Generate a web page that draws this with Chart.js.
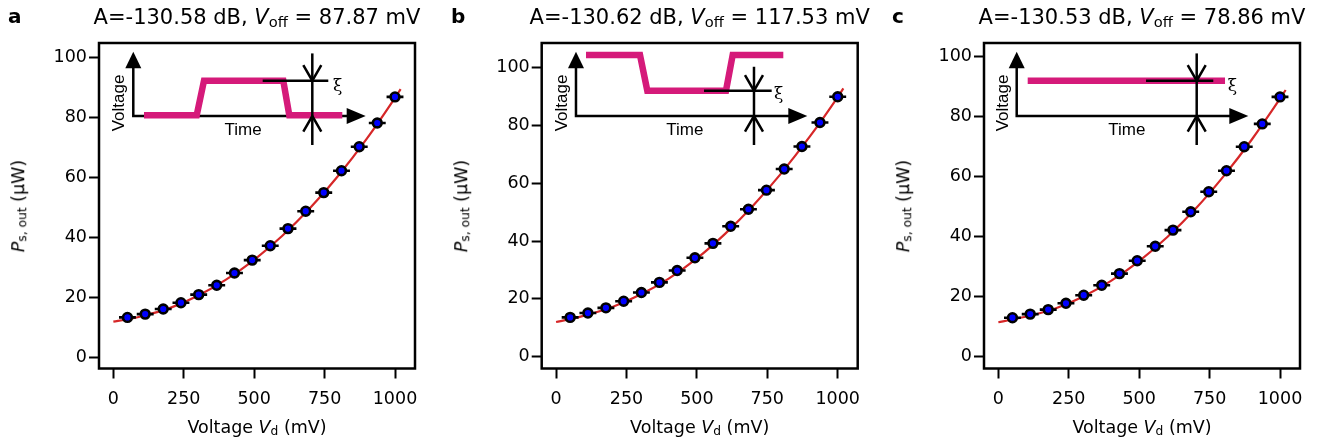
<!DOCTYPE html>
<html>
<head>
<meta charset="utf-8">
<script src="https://cdn.jsdelivr.net/npm/chart.js@4.4.1/dist/chart.umd.min.js"></script>
<style>
  body { margin: 0; background: #fff; }
  #fig { position: relative; width: 1327px; height: 443px; overflow: hidden; font-family: 'DejaVu Sans', sans-serif; color: #000; }
  .panel { position: absolute; top: 0; }
  .txt { position: absolute; white-space: nowrap; line-height: 1; }
  .txt sub { font-size: 70%; line-height: 0; vertical-align: -0.2em; }
  .letter { font-weight: bold; font-size: 20px; }
  .title { font-size: 21px; }
  .axlabel { font-size: 17.5px; }
  .inset { font-family: 'Liberation Sans', Arial, sans-serif; font-size: 17px; }
  .xi { font-family: 'DejaVu Serif', serif; font-size: 17px; }
</style>
</head>
<body>
<div id="fig"></div>
<script>
// drive voltage of the measured points (mV) and its horizontal error
const voltage = [50, 113, 177, 240, 303, 367, 430, 493, 557, 620, 683, 747, 810, 873, 937, 1000];
const voltageErr = [30, 30, 30, 30, 30, 30, 30, 30, 30, 30, 30, 30, 30, 30, 30, 30];

// measured output power (uW)
const powerA = [13.2, 14.3, 16.0, 18.1, 20.8, 23.9, 28.0, 32.3, 37.1, 42.8, 48.6, 54.8, 62.1, 70.1, 78.0, 86.7];
const powerB = [13.6, 15.1, 16.9, 19.2, 22.2, 25.7, 29.8, 34.2, 39.2, 45.1, 51.0, 57.6, 64.9, 72.7, 81.0, 89.9];
const powerC = [13.0, 14.2, 15.7, 17.8, 20.5, 23.8, 27.7, 32.0, 36.8, 42.2, 48.3, 55.0, 62.0, 70.0, 77.6, 86.6];

// fitted curves
const fitVoltage = [0, 50, 100, 200, 300, 400, 500, 600, 700, 800, 900, 1000, 1020];
const fitA = [11.8, 12.6, 13.6, 16.3, 20.4, 25.8, 32.4, 40.4, 49.8, 60.6, 72.8, 86.4, 89.3];
const fitB = [12.0, 13.0, 14.2, 17.2, 21.5, 27.0, 34.0, 42.5, 52.3, 63.5, 76.0, 89.8, 92.8];
const fitC = [11.5, 12.4, 13.4, 16.0, 20.0, 25.3, 31.9, 39.9, 49.3, 60.2, 72.4, 86.0, 88.9];

// fit parameters shown in the titles
const ampDb = ['-130.58', '-130.62', '-130.53'];
const vOff = ['87.87', '117.53', '78.86'];

const xTicks = [0, 250, 500, 750, 1000];
const yTicks = [0, 20, 40, 60, 80, 100];

// inset sketches (time / voltage in % of the plot box)
const pulseTimeA = [14.24, 30.92, 33.23, 58.32, 60.22, 76.99];
const pulseLevelA = [77.79, 77.79, 88.42, 88.42, 77.79, 77.79];
const pulseTimeB = [14.02, 31.11, 33.42, 58.32, 60.44, 76.46];
const pulseLevelB = [96.31, 96.31, 85.35, 85.35, 96.31, 96.31];
const pulseTimeC = [13.83, 76.27];
const pulseLevelC = [88.42, 88.42];

const PLOT_TOP = 43, PLOT_BOTTOM = 368.5, PLOT_W = 316;
const FONT = 'DejaVu Sans';
const PINK = '#d51a7a';

const panels = [
  { id: 'a', left: 0, width: 440, plotL: 99, yMin: -3.83, yMax: 104.67,
    power: powerA, fit: fitA, pulseT: pulseTimeA, pulseV: pulseLevelA,
    inset: { origin: [10.85, 77.57], vTip: 97.33, hTip: 84.4, xiLine: [51.8, 72.56, 88.42],
             marker: [67.5, 96.8, 68.66], tips: [88.42, 77.57],
             xiPos: [75.5, 87.1], voltPos: [6.0, 81.6], timePos: [45.6, 73.6] } },
  { id: 'b', left: 440, width: 440, plotL: 541.7, yMin: -4.08, yMax: 108.5,
    power: powerB, fit: fitB, pulseT: pulseTimeB, pulseV: pulseLevelB,
    inset: { origin: [10.85, 77.57], vTip: 97.33, hTip: 84.05, xiLine: [51.36, 72.78, 85.35],
             marker: [67.18, 92.7, 68.66], tips: [85.35, 77.57],
             xiPos: [75.0, 84.6], voltPos: [6.0, 81.6], timePos: [45.3, 73.6] } },
  { id: 'c', left: 880, width: 447, plotL: 984, yMin: -3.93, yMax: 104.57,
    power: powerC, fit: fitC, pulseT: pulseTimeC, pulseV: pulseLevelC,
    inset: { origin: [10.35, 77.57], vTip: 97.33, hTip: 83.64, xiLine: [51.27, 72.56, 88.42],
             marker: [67.31, 96.8, 68.66], tips: [88.42, 77.57],
             xiPos: [78.6, 87.1], voltPos: [5.6, 81.6], timePos: [45.2, 73.6] } }
];

const fig = document.getElementById('fig');

function addText(html, cls, x, y, transform) {
  const el = document.createElement('div');
  el.className = 'txt ' + cls;
  el.innerHTML = html;
  el.style.left = x + 'px';
  el.style.top = y + 'px';
  el.style.transform = transform;
  fig.appendChild(el);
  return el;
}

// baseline helper for line-height:1 boxes
function topFor(baseline, fs) { return baseline - 0.846 * fs; }

function line(ctx, pts) {
  ctx.beginPath();
  ctx.moveTo(pts[0][0], pts[0][1]);
  for (let i = 1; i < pts.length; i++) ctx.lineTo(pts[i][0], pts[i][1]);
  ctx.stroke();
}

function tri(ctx, pts) {
  ctx.beginPath();
  ctx.moveTo(pts[0][0], pts[0][1]);
  ctx.lineTo(pts[1][0], pts[1][1]);
  ctx.lineTo(pts[2][0], pts[2][1]);
  ctx.closePath();
  ctx.fill();
}

function insetPlugin(p) {
  const s = p.inset;
  return {
    id: 'inset',
    beforeDatasetsDraw(chart) {
      const ctx = chart.ctx, X = v => chart.scales.ix.getPixelForValue(v), Y = v => chart.scales.iy.getPixelForValue(v);
      const ox = X(s.origin[0]), oy = Y(s.origin[1]), vt = Y(s.vTip), ht = X(s.hTip);
      ctx.save();
      ctx.strokeStyle = '#000'; ctx.fillStyle = '#000'; ctx.lineWidth = 2.5; ctx.lineJoin = 'miter';
      line(ctx, [[ox, vt + 15], [ox, oy], [ht - 17, oy]]);
      tri(ctx, [[ox, vt], [ox - 8, vt + 16.5], [ox + 8, vt + 16.5]]);
      tri(ctx, [[ht, oy], [ht - 19, oy - 8], [ht - 19, oy + 8]]);
      ctx.restore();
    },
    afterDatasetsDraw(chart) {
      const ctx = chart.ctx, X = v => chart.scales.ix.getPixelForValue(v), Y = v => chart.scales.iy.getPixelForValue(v);
      ctx.save();
      ctx.strokeStyle = '#000'; ctx.lineWidth = 2.5;
      line(ctx, [[X(s.xiLine[0]), Y(s.xiLine[2])], [X(s.xiLine[1]), Y(s.xiLine[2])]]);
      const mx = X(s.marker[0]);
      line(ctx, [[mx, Y(s.marker[1])], [mx, Y(s.marker[2])]]);
      const t1 = Y(s.tips[0]), t2 = Y(s.tips[1]);
      line(ctx, [[mx - 9, t1 - 15.5], [mx, t1], [mx + 9, t1 - 15.5]]);
      line(ctx, [[mx - 9, t2 + 15.5], [mx, t2], [mx + 9, t2 + 15.5]]);
      // frame
      const a = chart.chartArea;
      ctx.lineWidth = 2.5;
      ctx.strokeRect(a.left, a.top, a.right - a.left, a.bottom - a.top);
      ctx.restore();
    }
  };
}

function makePanel(p, idx) {
  const box = document.createElement('div');
  box.className = 'panel';
  box.style.left = p.left + 'px';
  const canvas = document.createElement('canvas');
  canvas.width = p.width; canvas.height = 443;
  canvas.style.width = p.width + 'px'; canvas.style.height = '443px';
  box.appendChild(canvas);
  fig.appendChild(box);

  const points = voltage.map((v, i) => ({ x: v, y: p.power[i] }));
  const errBars = [];
  voltage.forEach((v, i) => {
    errBars.push({ x: v - voltageErr[i], y: p.power[i] }, { x: v + voltageErr[i], y: p.power[i] }, { x: v, y: null });
  });
  const fitPts = fitVoltage.map((v, i) => ({ x: v, y: p.fit[i] }));
  const pulse = p.pulseT.map((t, i) => ({ x: t, y: p.pulseV[i] }));

  const tickFont = { family: FONT, size: 17.5 };
  const plotR = p.plotL + PLOT_W;

  new Chart(canvas.getContext('2d'), {
    type: 'line',
    data: {
      datasets: [
        { data: points, showLine: false, pointRadius: 4.4, pointBorderWidth: 2.6,
          pointBackgroundColor: '#0000ff', pointBorderColor: '#000', order: 1 },
        { data: errBars, borderColor: '#000', borderWidth: 2.6, pointRadius: 0, spanGaps: false, order: 2 },
        { data: fitPts, borderColor: '#d62728', borderWidth: 2.2, pointRadius: 0,
          cubicInterpolationMode: 'monotone', order: 3 },
        { data: pulse, xAxisID: 'ix', yAxisID: 'iy', borderColor: PINK, borderWidth: 6.5,
          pointRadius: 0, borderJoinStyle: 'miter', borderCapStyle: 'butt', order: 4 }
      ]
    },
    options: {
      responsive: false,
      devicePixelRatio: 1,
      animation: false,
      events: [],
      layout: { padding: { left: 0, top: PLOT_TOP, right: p.width - (plotR - p.left), bottom: 0 } },
      plugins: { legend: { display: false }, tooltip: { enabled: false } },
      scales: {
        x: {
          type: 'linear', position: 'bottom', min: -51, max: 1071,
          afterBuildTicks: sc => { sc.ticks = xTicks.map(v => ({ value: v })); },
          afterFit: sc => { sc.height = 443 - PLOT_BOTTOM; },
          ticks: { font: tickFont, color: '#000', padding: 10, maxRotation: 0, autoSkip: false,
                   callback: v => String(v) },
          grid: { drawOnChartArea: false, drawTicks: true, tickLength: 10, tickWidth: 2, tickColor: '#000' },
          border: { display: false }
        },
        y: {
          type: 'linear', position: 'left', min: p.yMin, max: p.yMax,
          afterBuildTicks: sc => { sc.ticks = yTicks.map(v => ({ value: v })); },
          afterFit: sc => { sc.width = p.plotL - p.left; },
          ticks: { font: tickFont, color: '#000', padding: 2, autoSkip: false,
                   callback: v => String(v) },
          grid: { drawOnChartArea: false, drawTicks: true, tickLength: 10, tickWidth: 2, tickColor: '#000' },
          border: { display: false }
        },
        ix: { type: 'linear', axis: 'x', min: 0, max: 100, display: false },
        iy: { type: 'linear', axis: 'y', min: 0, max: 100, display: false }
      }
    },
    plugins: [insetPlugin(p)]
  });

  // texts
  const cx = p.plotL + PLOT_W / 2;
  const cy = (PLOT_TOP + PLOT_BOTTOM) / 2;
  const letterX = [8, 451, 892][idx];
  addText(p.id, 'letter', letterX, topFor(23, 20), 'none');
  addText('A=' + ampDb[idx] + ' dB, <i>V</i><sub>off</sub> = ' + vOff[idx] + ' mV', 'title',
          cx, topFor(25, 21), 'translateX(-50%)');
  addText('Voltage <i>V</i><sub>d</sub> (mV)', 'axlabel', cx, topFor(434, 17.5), 'translateX(-50%)');
  addText('<i>P</i><sub>s, out</sub> (\u03bcW)', 'axlabel', p.plotL - 80, cy, 'translate(-50%,-50%) rotate(-90deg)');

  const px = v => p.plotL + v / 100 * PLOT_W;
  const py = v => PLOT_BOTTOM - v / 100 * (PLOT_BOTTOM - PLOT_TOP);
  const s = p.inset;
  addText('Voltage', 'inset', px(s.voltPos[0]), py(s.voltPos[1]), 'translate(-50%,-50%) rotate(-90deg)');
  addText('Time', 'inset', px(s.timePos[0]), py(s.timePos[1]), 'translate(-50%,-50%)');
  addText('\u03be', 'xi', px(s.xiPos[0]), py(s.xiPos[1]), 'translate(-50%,-50%)');
}

panels.forEach(makePanel);
</script>
</body>
</html>
